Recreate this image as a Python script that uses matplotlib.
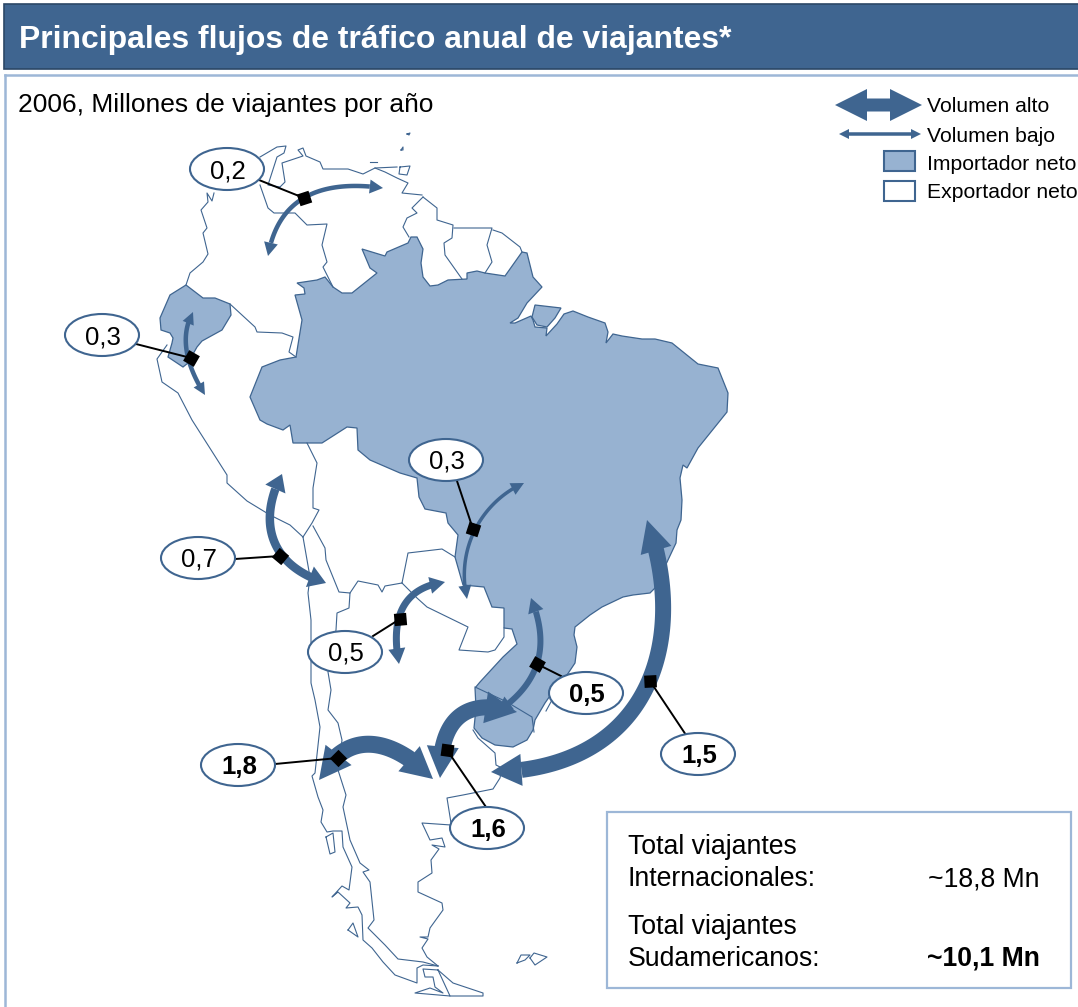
#!/usr/bin/python3
# -*- coding: utf-8 -*-
import numpy as np
import matplotlib
matplotlib.use('Agg')
import matplotlib.pyplot as plt
from matplotlib.patches import Ellipse, Polygon, Rectangle

plt.rcParams['font.family'] = ['Liberation Sans', 'DejaVu Sans']

# Texts and values
title = "Principales flujos de tráfico anual de viajantes*"
subtitle = "2006, Millones de viajantes por año"
legend_labels = ["Volumen alto", "Volumen bajo", "Importador neto", "Exportador neto"]
flow_values = ["0,2", "0,3", "0,3", "0,7", "0,5", "0,5", "1,8", "1,6", "1,5"]
flow_bold = [False, False, False, False, False, True, True, True, True]
total_labels = ["Total viajantes\nInternacionales:", "Total viajantes\nSudamericanos:"]
total_values = ["~18,8 Mn", "~10,1 Mn"]

# Map outlines, traced in picture pixels
brazil = [(297,283),(317,280),(325,277),(333,287),(342,293),(352,293),(377,273),(370,268),(362,249),(385,256),
    (387,252),(408,243),(411,237),(417,237),(423,249),(421,263),(423,277),(430,286),(438,285),(448,280),(467,279),
    (467,273),(477,271),(485,273),(505,276),(522,252),(527,253),(533,277),(542,287),(527,303),(518,318),(510,323),
    (515,323),(531,316),(533,320),(535,327),(547,328),(546,336),(557,324),(564,314),(573,311),(588,317),(605,323),
    (608,332),(606,343),(613,334),(622,336),(642,339),(655,339),(672,343),(698,364),(718,368),(728,393),(727,412),
    (698,448),(687,468),(683,465),(680,478),(682,500),(681,520),(677,530),(676,543),(668,560),(655,588),(650,593),
    (633,595),(623,597),(602,607),(590,615),(575,627),(574,635),(577,647),(575,663),(567,675),(552,693),(545,703),
    (535,720),(533,730),(527,740),(513,747),(495,745),(482,738),(474,728),(476,708),(475,688),(480,682),(503,657),
    (517,644),(512,629),(504,628),(504,608),(492,607),(484,587),(463,585),(455,557),(458,535),(448,523),(446,513),
    (425,509),(419,497),(417,478),(400,473),(370,460),(358,450),(357,428),(347,427),(322,443),(307,443),(293,443),
    (290,425),(283,430),(267,424),(260,420),(250,397),(262,367),(280,360),(296,357),(302,320),(295,295),(305,294),
    (304,288)]
marajo = [(535,305),(561,308),(555,318),(547,327),(537,325),(532,317)]
ecuador = [(186,285),(203,298),(215,298),(230,304),(231,315),(222,330),(202,341),(197,347),(188,363),(183,367),
    (168,357),(172,343),(173,338),(170,333),(161,330),(160,318),(170,295)]
uruguay_border = [(475,687),(507,702),(532,717),(534,732)]

borders = [
    [(186,285),(190,273),(203,262),(208,254),(203,233),(207,228),(201,210),(208,202),(207,193),(212,201),(214,193)],
    [(260,157),(277,147),(286,146),(284,153),(277,157),(268,185),(280,187)],
    [(260,185),(268,208),(274,213),(295,213),(307,225),(327,224),(322,245),(327,262),(323,267),(333,287)],
    [(280,187),(285,182),(282,163),(303,156),(298,150),(303,148),(306,156),(320,162),(323,169),(348,169),(363,174),
     (375,168),(385,172),(397,178),(408,183),(402,193),(422,195)],
    [(423,197),(412,208),(417,213),(407,218),(403,227),(409,237)],
    [(423,197),(437,208),(437,220),(453,225),(452,238),(444,243),(445,255),(462,279)],
    [(454,228),(492,228),(487,245),(492,262),(485,273)],
    [(493,230),(502,233),(520,247),(522,252)],
    [(375,168),(397,167)],
    [(370,162),(377,162)],
    [(400,167),(410,166),(407,175),(399,174),(400,167)],
    [(401,150),(403,147),(403,150),(401,150)],
    [(407,134),(410,133),(409,135),(407,134)],
    [(230,304),(255,327),(257,332),(282,333),(293,337),(289,352),(296,357)],
    [(167,345),(157,359),(162,382),(178,393),(192,420),(227,475),(227,483),(247,501),(270,515),(290,525),(303,537)],
    [(307,443),(317,463),(313,488),(313,508),(319,510),(312,523),(303,537)],
    [(303,537),(310,577),(308,593),(311,620),(311,683),(315,700),(320,727),(315,773),(312,776),(318,797),(323,810),
     (321,822),(327,832),(333,831),(342,831),(343,847),(352,867),(349,890),(342,886),(332,897),(338,892),(350,903),
     (346,908),(358,907),(362,915),(363,940),(372,948),(383,962),(395,975),(417,983),(417,968),(423,965),(438,966)],
    [(326,837),(333,833),(335,852),(330,854),(326,837)],
    [(348,930),(353,923),(358,937),(348,930)],
    [(313,526),(325,548),(326,560),(339,592),(350,593),(349,608),(337,613),(336,630),(330,660),(328,672),(331,690),
     (328,710),(338,723),(342,740),(338,770),(346,795),(343,807),(350,840),(360,863),(369,870),(363,872),(370,882),
     (374,920),(368,928),(385,945),(398,959),(423,962),(438,966)],
    [(438,970),(450,996),(415,993),(430,988),(443,993),(435,987),(433,977),(425,977),(423,969),(438,970)],
    [(438,970),(453,983),(483,993),(483,996),(450,996)],
    [(473,730),(478,738),(495,753),(496,765),(502,768),(500,778),(493,789),(463,795),(447,798),(451,823)],
    [(451,825),(422,823),(430,840),(442,838),(445,847),(432,845),(439,849),(431,860),(432,873),(418,882),(418,892),
     (442,903),(443,910),(430,928),(428,937),(420,937),(428,939),(422,948),(427,957),(438,966)],
    [(517,963),(521,955),(530,955),(525,960),(517,963)],
    [(530,958),(534,953),(547,957),(535,965),(530,958)],
    [(402,583),(408,553),(442,549),(455,557)],
    [(350,593),(358,581),(378,585),(382,592),(385,586),(402,583)],
    [(402,583),(417,598),(427,607),(468,627),(459,650),(488,652),(495,650),(504,637),(504,628)],
    [(552,700),(546,711)],
]

# Flow arrows: bezier control points from tip to tip, in picture pixels
flow_paths = [
    [(268,256),(282,174),(383,188)],
    [(193,312),(174,346),(205,395)],
    [(524,483),(485,500),(455,545),(467,599)],
    [(282,474),(258,520),(268,565),(326,583)],
    [(445,582),(385,590),(399,664)],
    [(531,598),(548,640),(545,680),(497,712)],
    [(319,780),(345,730),(390,735),(433,779)],
    [(440,778),(439,689),(517,712)],
    [(647,520),(690,640),(650,770),(491,772)],
]
flow_widths = [4.5, 4.5, 3.5, 8.5, 7, 6, 17, 16, 16]
flow_heads = [(14,14), (12,12), (13,13), (22,17), (17,15), (16,15), (33,32), (32,32), (32,31)]

label_pos = [(227,169),(102,335),(446,460),(198,558),(345,652),(586,693),(238,765),(487,828),(698,754)]
leader_start = [(259,180),(136,344),(457,481),(235,559),(373,636),(561,676),(275,764),(486,807),(686,735)]
knot_pos = [(304,198),(191,358),(473,529),(280,556),(400,619),(537,664),(338,758),(447,750),(650,681)]
knot_angle = [63,15,27,5,50,15,0,37,48]

DARK = '#3F6590'
FILL = '#97B2D1'
PALE = '#9DB7D7'


def bezier(ctrl, n = 120):
    ctrl = np.array(ctrl, dtype=float)
    ts = np.linspace(0, 1, n)
    pts = []
    for t in ts:
        p = ctrl.copy()
        while len(p) > 1:
            p = (1 - t) * p[:-1] + t * p[1:]
        pts.append(p[0])
    return np.array(pts)


def head(ax, tip, base, width):
    d = (tip - base) / np.linalg.norm(tip - base)
    nrm = np.array([-d[1], d[0]])
    ax.add_patch(Polygon([tip, base + nrm * width / 2, base - nrm * width / 2], closed=True,
        facecolor=DARK, edgecolor='none', zorder=4))


def flow(ax, ctrl, width, hw, hl):
    # shaft is cut back so it stops inside the two heads
    pts = bezier(ctrl)
    seg = np.hypot(*np.diff(pts, axis=0).T)
    s = np.concatenate([[0], np.cumsum(seg)])
    keep = (s >= hl * 0.9) & (s <= s[-1] - hl * 0.9)
    ax.plot(pts[keep, 0], pts[keep, 1], color=DARK, lw=width * 0.72, solid_capstyle='butt', zorder=3)
    i0 = np.argmin(abs(s - hl))
    i1 = np.argmin(abs(s - (s[-1] - hl)))
    head(ax, pts[0], pts[i0], hw)
    head(ax, pts[-1], pts[i1], hw)


def double_arrow(ax, x0, x1, y, shaft, hw, hl):
    ax.add_patch(Polygon([(x0,y),(x0+hl,y-hw/2),(x0+hl,y-shaft/2),(x1-hl,y-shaft/2),(x1-hl,y-hw/2),(x1,y),
        (x1-hl,y+hw/2),(x1-hl,y+shaft/2),(x0+hl,y+shaft/2),(x0+hl,y+hw/2)], closed=True, facecolor=DARK, edgecolor='none'))


def main():
    fig = plt.figure(figsize=(10.78, 10.07), dpi=100)
    ax = fig.add_axes([0, 0, 1, 1])
    ax.set_xlim(0, 1078)
    ax.set_ylim(1007, 0)
    ax.axis('off')

    # header band and frame
    ax.add_patch(Rectangle((4, 4), 1080, 65, facecolor=DARK, edgecolor='#2B4766', lw=1.2))
    ax.text(19, 40, title, color='white', fontsize=22.95, fontweight='bold', va='center')
    ax.plot([5, 1078], [75, 75], color=PALE, lw=1.8)
    ax.plot([5, 5], [75, 1007], color=PALE, lw=1.8)
    ax.text(18, 105, subtitle, fontsize=19, va='center', color='black')

    # map
    for poly in (brazil, marajo, ecuador):
        ax.add_patch(Polygon(poly, closed=True, facecolor=FILL, edgecolor=DARK, lw=0.9, zorder=1))
    for line in borders + [uruguay_border]:
        xs, ys = zip(*line)
        ax.plot(xs, ys, color=DARK, lw=0.8, zorder=2)
    for ctrl, w, (hw, hl) in zip(flow_paths, flow_widths, flow_heads):
        flow(ax, ctrl, w, hw, hl)

    # callouts
    for i, val in enumerate(flow_values):
        ax.plot([leader_start[i][0], knot_pos[i][0]], [leader_start[i][1], knot_pos[i][1]],
            color='black', lw=1.4, zorder=5)
        ax.plot(knot_pos[i][0], knot_pos[i][1], marker=(4, 0, knot_angle[i]), color='black', ms=12.5, mew=0, zorder=6)
        ax.add_patch(Ellipse(label_pos[i], 74, 42, facecolor='white', edgecolor=DARK, lw=1.5, zorder=7))
        ax.text(label_pos[i][0] + 1, label_pos[i][1] + 2, val, fontsize=18.5, ha='center', va='center', zorder=8,
            fontweight='bold' if flow_bold[i] else 'normal')

    # legend
    double_arrow(ax, 835, 922, 105, 13, 32, 32)
    double_arrow(ax, 839, 921, 134, 3.5, 10, 10)
    ax.add_patch(Rectangle((884, 151), 31, 20, facecolor=FILL, edgecolor=DARK, lw=1.5))
    ax.add_patch(Rectangle((884, 181), 31, 20, facecolor='white', edgecolor=DARK, lw=1.5))
    for label, y in zip(legend_labels, [107, 136, 164, 192]):
        ax.text(927, y, label, fontsize=15.2, va='center', color='black')

    # totals box
    ax.add_patch(Rectangle((607, 812), 464, 176, facecolor='white', edgecolor=PALE, lw=1.6, zorder=9))
    ax.text(628, 863, total_labels[0], fontsize=19.2, va='center', linespacing=1.29, zorder=10)
    ax.text(628, 943, total_labels[1], fontsize=19.2, va='center', linespacing=1.29, zorder=10)
    ax.text(1040, 879, total_values[0], fontsize=19.2, ha='right', va='center', zorder=10)
    ax.text(1040, 958, total_values[1], fontsize=19.2, ha='right', va='center', fontweight='bold', zorder=10)

    fig.savefig('out.png', dpi=100)


if __name__ == "__main__":
    main()
